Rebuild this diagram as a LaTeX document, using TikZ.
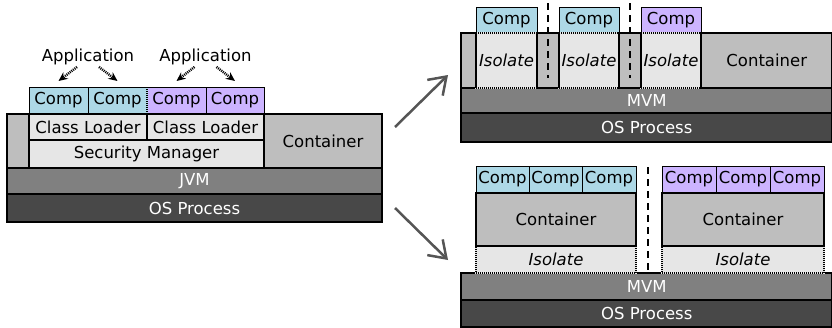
\documentclass[tikz,border=0pt]{standalone}
\usepackage{fontspec}
\setmainfont{DejaVu Sans}
\usepackage{tikz}
\usetikzlibrary{
  arrows.meta,
  positioning
}
\definecolor{compblue}{RGB}{173,216,230}
\definecolor{comppurple}{RGB}{204,180,255}
\definecolor{contgray}{RGB}{190,190,190}
\definecolor{isofill}{RGB}{230,230,230}
\definecolor{vmgray}{RGB}{128,128,128}
\definecolor{osgray}{RGB}{72,72,72}
\definecolor{arrowgray}{RGB}{85,85,85}

\begin{document}
\begin{tikzpicture}[x=1pt,y=-1pt,
      every node/.style={
         rectangle,
         inner sep=0pt,
         outer sep=0pt,
         font=\fontsize{16.5}{19}\selectfont
      },
      slab/.style={
         anchor=north west,
         draw=black,
         line width=2.2pt
      },
      contbox/.style={slab, fill=contgray},
      lightbox/.style={slab, fill=isofill},
      vmbox/.style={slab, fill=vmgray, text=white},
      osbox/.style={slab, fill=osgray, text=white},
      comp/.style={
         anchor=north west,
         draw=black,
         line width=0.8pt,
         minimum height=26pt
      },
      compa/.style={comp, fill=compblue},
      compb/.style={comp, fill=comppurple},
      isolate/.style={
         anchor=north west,
         fill=isofill,
         preaction={draw=isofill, solid, line width=2.2pt},
         draw=black,
         line width=1.2pt,
         dash pattern=on 1pt off 1pt,
         font=\fontsize{16.5}{19}\selectfont\itshape
      },
      solidside/.style={draw=black, line width=2.2pt},
      sepline/.style={draw=black, line width=2.5pt, dash pattern=on 7pt off 5pt},
      appdep/.style={-{Stealth[length=9pt,width=8pt]}, line width=2.5pt, dash pattern=on 1pt off 1pt},
      bigarrow/.style={-{Straight Barb[length=16pt,width=22pt]}, draw=arrowgray, line width=2.5pt}
    ]
    \useasboundingbox (0,0) rectangle (832,327);

    % one JVM, applications separated by class loaders
    \node (strip) [contbox, minimum width=22pt, minimum height=54pt] at (7,114) {};
    \node (cl1) [lightbox, minimum width=118pt, minimum height=26pt] at (strip.north east) {Class Loader};
    \node (cl2) [lightbox, minimum width=117pt, minimum height=26pt] at (cl1.north east) {Class Loader};
    \node (sm) [lightbox, minimum width=235pt, minimum height=28pt] at (cl1.south west) {Security Manager};
    \node (jcont) [contbox, minimum width=118pt, minimum height=54pt] at (cl2.north east) {Container};
    \node (jvm) [vmbox, minimum width=375pt, minimum height=26pt] at (strip.south west) {JVM};
    \node (os) [osbox, minimum width=375pt, minimum height=28pt] at (jvm.south west) {OS Process};
    \node (c1) [compa, anchor=south west, minimum width=59pt] at ([yshift=1pt]cl1.north west) {Comp};
    \node (c2) [compa, anchor=south west, minimum width=59pt] at (c1.south east) {Comp};
    \node (c3) [compb, anchor=south west, minimum width=59pt] at (c2.south east) {Comp};
    \node (c4) [compb, anchor=south west, minimum width=58pt] at (c3.south east) {Comp};
    \draw[compblue, line width=1.2pt] (c2.north east) -- (c2.south east);
    \draw[line width=1.2pt, dash pattern=on 1pt off 1pt] (c2.north east) -- (c2.south east);
    \node (app1) at (88,57) {Application};
    \node (app2) at (205.5,57) {Application};
    \draw[appdep] ([shift={(-11,2)}]app1.south) -- ([shift={(0,-6)}]c1.north);
    \draw[appdep] ([shift={(11,2)}]app1.south) -- ([shift={(0,-6)}]c2.north);
    \draw[appdep] ([shift={(-11,2)}]app2.south) -- ([shift={(0,-6)}]c3.north);
    \draw[appdep] ([shift={(11,2)}]app2.south) -- ([shift={(0,-6)}]c4.north);

    % MVM with isolates in one container
    \node (ca1) [compa, minimum width=61pt] at (476,7) {Comp};
    \node (ca2) [compa, minimum width=60pt] at (559,7) {Comp};
    \node (ca3) [compb, minimum width=60pt] at (641,7) {Comp};
    \node (mvma) [vmbox, minimum width=371.5pt, minimum height=25pt] at (461,88) {MVM};
    \node (osa) [osbox, minimum width=371.5pt, minimum height=29pt] at (mvma.south west) {OS Process};
    \node (sa) [contbox, anchor=south west, minimum width=15pt, minimum height=55pt] at (mvma.north west) {};
    \node (isoa) [isolate, minimum width=61pt, minimum height=55pt] at (sa.north east) {Isolate};
    \node (sb) [contbox, minimum width=22pt, minimum height=55pt] at (isoa.north east) {};
    \node (isob) [isolate, minimum width=60pt, minimum height=55pt] at (sb.north east) {Isolate};
    \node (sc) [contbox, minimum width=22pt, minimum height=55pt] at (isob.north east) {};
    \node (isoc) [isolate, minimum width=60pt, minimum height=55pt] at (sc.north east) {Isolate};
    \node (mcont) [contbox, minimum width=131.5pt, minimum height=55pt] at (isoc.north east) {Container};
    \foreach \iso in {isoa,isob,isoc}
       \draw[solidside] (\iso.north west) -- (\iso.south west);
    \draw[sepline] ([yshift=30pt]sb.north) -- ([yshift=10pt]sb.south);
    \draw[sepline] ([yshift=30pt]sc.north) -- ([yshift=10pt]sc.south);

    % MVM with one container per isolate
    \node (mvmb) [vmbox, minimum width=371.5pt, minimum height=27pt] at (461,273) {MVM};
    \node (osb) [osbox, minimum width=371.5pt, minimum height=27pt] at (mvmb.south west) {OS Process};
    \node (isod) [isolate, anchor=south west, minimum width=160pt, minimum height=27pt] at ([xshift=15pt]mvmb.north west) {Isolate};
    \node (contd) [contbox, anchor=south west, minimum width=160pt, minimum height=53pt] at (isod.north west) {Container};
    \node (cd1) [compa, anchor=south west, minimum width=53pt] at ([yshift=1pt]contd.north west) {Comp};
    \node (cd2) [compa, anchor=south west, minimum width=53pt] at (cd1.south east) {Comp};
    \node (cd3) [compa, anchor=south west, minimum width=54pt] at (cd2.south east) {Comp};
    \node (isoe) [isolate, anchor=south west, minimum width=162pt, minimum height=27pt] at ([xshift=201pt]mvmb.north west) {Isolate};
    \node (conte) [contbox, anchor=south west, minimum width=162pt, minimum height=53pt] at (isoe.north west) {Container};
    \node (ce1) [compb, anchor=south west, minimum width=54pt] at ([yshift=1pt]conte.north west) {Comp};
    \node (ce2) [compb, anchor=south west, minimum width=54pt] at (ce1.south east) {Comp};
    \node (ce3) [compb, anchor=south west, minimum width=54pt] at (ce2.south east) {Comp};
    \coordinate (gap) at (648,167);
    \draw[sepline] (gap) -- (gap |- mvmb.north);

    % migration arrows
    \draw[bigarrow] ([shift={(13,13)}]jcont.north east) -- ([shift={(-13,-13)}]mvma.north west);
    \draw[bigarrow] ([shift={(13,-14)}]os.south east) -- ([shift={(-13,-13)}]mvmb.north west);
\end{tikzpicture}
\end{document}
